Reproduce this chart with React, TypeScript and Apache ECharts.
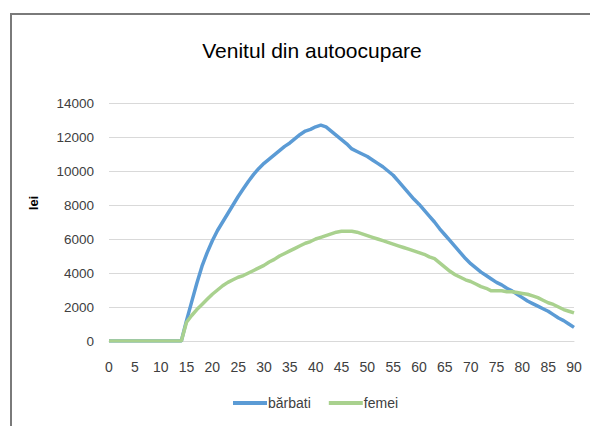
import React, { useEffect, useRef } from "react";
import * as echarts from "echarts";

const ages: string[] = Array.from({ length: 91 }, (_, i) => String(i));

const barbati: number[] = [
  0, 0, 0, 0, 0, 0, 0, 0, 0, 0, 0, 0, 0, 0, 0,
  1200, 2300, 3400, 4400, 5200, 5900, 6500, 7000, 7500, 8000,
  8500, 8950, 9400, 9800, 10150, 10450, 10700, 10950, 11200, 11450,
  11650, 11900, 12150, 12350, 12450, 12600, 12700, 12600, 12350, 12100,
  11850, 11600, 11300, 11150, 11000, 10850, 10650, 10450, 10250, 10000,
  9750, 9400, 9050, 8700, 8350, 8050, 7700, 7350, 7000, 6600,
  6250, 5900, 5550, 5200, 4850, 4550, 4300, 4050, 3850, 3650,
  3450, 3300, 3100, 2950, 2750, 2550, 2350, 2200, 2050, 1900,
  1750, 1550, 1350, 1200, 1000, 800,
];

const femei: number[] = [
  0, 0, 0, 0, 0, 0, 0, 0, 0, 0, 0, 0, 0, 0, 0,
  1100, 1500, 1850, 2150, 2450, 2750, 3000, 3250, 3450, 3600,
  3750, 3850, 4000, 4150, 4300, 4450, 4650, 4800, 5000, 5150,
  5300, 5450, 5600, 5750, 5850, 6000, 6100, 6200, 6300, 6400,
  6450, 6450, 6450, 6400, 6300, 6200, 6100, 6000, 5900, 5800,
  5700, 5600, 5500, 5400, 5300, 5200, 5100, 4950, 4850, 4600,
  4350, 4100, 3900, 3750, 3600, 3500, 3350, 3200, 3100, 2950,
  2950, 2950, 2900, 2900, 2850, 2800, 2750, 2650, 2550, 2400,
  2250, 2150, 2000, 1850, 1750, 1650,
];

const seriesNames: string[] = ["bărbati", "femei"];
const titleText = "Venitul din autoocupare";
const yAxisName = "lei";

const FONT = "'Liberation Sans', Arial, sans-serif";

export default function App() {
  const ref = useRef<HTMLDivElement>(null);
  useEffect(() => {
    if (!ref.current) return;
    const chart = echarts.init(ref.current, undefined, { renderer: "svg" });
    chart.setOption({
      animation: false,
      backgroundColor: "#ffffff",
      textStyle: { fontFamily: FONT },
      title: {
        text: titleText,
        left: 307,
        textAlign: "center",
        top: 35,
        textStyle: { fontFamily: FONT, fontSize: 21, fontWeight: "normal", color: "#000000" },
      },
      graphic: [
        {
          type: "rect",
          shape: { x: 11, y: 14, width: 700, height: 600 },
          style: { fill: "none", stroke: "#7a7a7a", lineWidth: 2 },
          silent: true,
        },
        {
          type: "text",
          x: 33,
          y: 203,
          rotation: Math.PI / 2,
          style: {
            text: yAxisName,
            fontFamily: FONT,
            fontSize: 13,
            fontWeight: "bold",
            fill: "#000000",
            align: "center",
            verticalAlign: "middle",
          },
        },
      ],
      legend: {
        left: 228,
        top: 391,
        icon: "rect",
        itemWidth: 34,
        itemHeight: 4,
        itemGap: 18,
        textStyle: { fontFamily: FONT, fontSize: 14, color: "#404040", padding: [0, 0, 0, -4] },
        data: seriesNames,
      },
      grid: { left: 109, right: 16, top: 103, bottom: 85, containLabel: false },
      xAxis: {
        type: "category",
        data: ages,
        boundaryGap: false,
        axisLine: { lineStyle: { color: "#d9d9d9", width: 1 } },
        axisTick: { show: false },
        axisLabel: {
          interval: 4,
          margin: 19,
          fontFamily: FONT,
          fontSize: 14,
          color: "#404040",
        },
        splitLine: { show: false },
      },
      yAxis: {
        type: "value",
        min: 0,
        max: 14000,
        interval: 2000,
        axisLine: { show: false },
        axisTick: { show: false },
        axisLabel: {
          margin: 15,
          fontFamily: FONT,
          fontSize: 13.5,
          color: "#404040",
          formatter: (v: number) => String(v),
        },
        splitLine: { lineStyle: { color: "#d9d9d9", width: 1 } },
      },
      series: [
        {
          name: seriesNames[0],
          type: "line",
          data: barbati,
          showSymbol: false,
          symbol: "none",
          lineStyle: { color: "#5b9bd5", width: 3.5 },
          itemStyle: { color: "#5b9bd5" },
        },
        {
          name: seriesNames[1],
          type: "line",
          data: femei,
          showSymbol: false,
          symbol: "none",
          lineStyle: { color: "#a9d18e", width: 3.5 },
          itemStyle: { color: "#a9d18e" },
        },
      ],
    });
    return () => chart.dispose();
  }, []);
  return (
    <div
      ref={ref}
      style={{ position: "fixed", left: 0, top: 0, width: 590, height: 426 }}
    />
  );
}
